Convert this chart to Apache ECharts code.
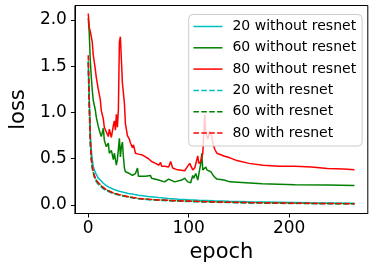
<!DOCTYPE html>
<html>
<head>
<meta charset="utf-8">
<script src="https://cdn.jsdelivr.net/npm/echarts@6/dist/echarts.min.js"></script>
<style>
html,body{margin:0;padding:0;background:#fff;}
#chart{width:376px;height:270px;}
</style>
</head>
<body>
<div id="chart"></div>
<script>
// ---- data ----
const seriesNames = ['20 without resnet','60 without resnet','80 without resnet','20 with resnet','60 with resnet','80 with resnet'];
const xTicks = [0, 100, 200];
const yTicks = [0, 0.5, 1.0, 1.5, 2.0];

const smoothEpochs = [0,1,2,3,4,5,6,8,10,12,15,18,21,25,30,35,40,45,50,60,70,80,90,100,110,125,140,160,190,220,265];
const cyan20NoRes = [1.55,1.15,0.80,0.60,0.49,0.42,0.38,0.33,0.29,0.27,0.235,0.21,0.19,0.17,0.152,0.138,0.125,0.115,0.106,0.092,0.080,0.070,0.063,0.057,0.052,0.045,0.040,0.035,0.030,0.025,0.020];
const cyan20Res   = [1.45,1.00,0.64,0.48,0.39,0.34,0.30,0.25,0.22,0.20,0.175,0.155,0.14,0.122,0.107,0.094,0.084,0.075,0.067,0.057,0.050,0.045,0.041,0.037,0.034,0.030,0.026,0.022,0.018,0.015,0.012];
const green60Res  = [1.55,1.10,0.70,0.51,0.41,0.355,0.315,0.265,0.235,0.215,0.185,0.162,0.148,0.128,0.113,0.099,0.089,0.079,0.071,0.061,0.054,0.049,0.045,0.041,0.037,0.033,0.029,0.025,0.020,0.017,0.013];
const red80Res    = [1.62,1.15,0.72,0.52,0.42,0.36,0.32,0.27,0.24,0.22,0.19,0.165,0.15,0.13,0.115,0.10,0.09,0.08,0.072,0.062,0.055,0.050,0.046,0.042,0.038,0.034,0.030,0.026,0.021,0.018,0.014];

const greenEpochs = [0,1,2,3,4,5,7,8,10,12,13,15,16,18,20,21,23,25,26,28,29,31,32,33,34,35,36,37,41,44,47,49,50,57,62,63,70,76,80,86,93,96,99,102,104,105,107,109,112,113,114,117,118,122,125,128,135,141,157,173,206,238,265];
const green60NoRes = [2.02,1.86,1.57,1.39,1.24,1.13,1.03,0.95,0.85,0.77,0.74,0.83,0.70,0.63,0.67,0.56,0.59,0.49,0.56,0.43,0.49,0.72,0.52,0.63,0.68,0.52,0.40,0.36,0.34,0.32,0.34,0.40,0.31,0.31,0.32,0.29,0.27,0.25,0.28,0.25,0.27,0.29,0.25,0.24,0.32,0.29,0.34,0.27,0.45,0.56,0.38,0.41,0.38,0.36,0.31,0.28,0.27,0.25,0.24,0.23,0.22,0.215,0.21];

const redEpochs = [0,1,2,4,5,7,8,10,12,13,15,16,18,20,21,23,25,26,27,28,29,30,31,32,33,34,35,36,37,39,41,42,44,45,47,50,54,57,60,63,67,70,72,73,76,80,82,84,89,96,99,101,104,106,109,110,112,114,116,117,119,121,123,124,126,128,135,141,148,160,174,190,206,222,238,254,265];
const red80NoRes = [2.07,1.92,1.88,1.76,1.62,1.47,1.38,1.25,1.14,1.02,0.93,0.84,0.79,0.74,0.82,0.73,0.86,0.91,0.81,0.98,0.84,1.03,1.76,1.82,1.81,1.32,1.21,1.10,0.88,0.75,0.71,0.67,0.62,0.65,0.56,0.55,0.54,0.52,0.50,0.47,0.45,0.43,0.46,0.42,0.42,0.41,0.47,0.40,0.38,0.37,0.42,0.45,0.38,0.40,0.53,0.45,0.47,0.56,0.98,0.78,0.71,0.80,0.74,0.67,0.60,0.56,0.53,0.51,0.48,0.45,0.43,0.42,0.42,0.41,0.395,0.39,0.38];

// ---- build ----
const zip = (xs, ys) => xs.map((x, i) => [x, ys[i]]);
const FONT = 'DejaVu Sans';
const colors = ['#00bfbf', '#008000', '#ff0000'];
const dash = [5.5, 2.4];

function mk(name, xs, ys, color, dashed) {
  return {
    name: name, type: 'line', data: zip(xs, ys), symbol: 'none', smooth: false,
    lineStyle: { color: color, width: 1.5, type: dashed ? dash : 'solid' },
    itemStyle: { color: color }
  };
}

const chart = echarts.init(document.getElementById('chart'), null, { renderer: 'canvas' });
chart.setOption({
  animation: false,
  backgroundColor: '#ffffff',
  grid: { left: 67.6, right: 8.2, top: 5.5, bottom: 56.5, show: true, borderColor: '#000', borderWidth: 1, containLabel: false },
  xAxis: {
    type: 'value', min: -13.25, max: 278.25,
    name: 'epoch', nameLocation: 'middle', nameGap: 29,
    nameTextStyle: { fontFamily: FONT, fontSize: 21, color: '#000' },
    axisLine: { show: true, onZero: false, lineStyle: { color: '#000', width: 1 } },
    axisTick: { show: true, length: 4, lineStyle: { color: '#000' }, customValues: xTicks },
    axisLabel: { fontFamily: FONT, fontSize: 17, color: '#000', margin: 7, customValues: xTicks },
    splitLine: { show: false }
  },
  yAxis: {
    type: 'value', min: -0.092, max: 2.157,
    name: 'loss', nameLocation: 'middle', nameGap: 38, nameRotate: 90,
    nameTextStyle: { fontFamily: FONT, fontSize: 21, color: '#000' },
    axisLine: { show: true, onZero: false, lineStyle: { color: '#000', width: 1 } },
    axisTick: { show: true, length: 4, lineStyle: { color: '#000' }, customValues: yTicks },
    axisLabel: { fontFamily: FONT, fontSize: 17, color: '#000', margin: 8, customValues: yTicks,
      formatter: v => Number(v).toFixed(1) },
    splitLine: { show: false }
  },
  legend: {
    orient: 'vertical', left: 188.7, top: 14.5,
    itemWidth: 29, itemHeight: 14, itemGap: 7.3,
    padding: [5, 6, 6, 4],
    borderColor: '#cccccc', borderWidth: 1, borderRadius: 4,
    backgroundColor: 'rgba(255,255,255,0.8)',
    itemStyle: { opacity: 0 },
    lineStyle: { width: 1.5 },
    textStyle: { fontFamily: FONT, fontSize: 14, color: '#000', padding: [0, 0, 0, 5] },
    data: seriesNames
  },
  series: [
    mk(seriesNames[0], smoothEpochs, cyan20NoRes, colors[0], false),
    mk(seriesNames[1], greenEpochs, green60NoRes, colors[1], false),
    mk(seriesNames[2], redEpochs, red80NoRes, colors[2], false),
    mk(seriesNames[3], smoothEpochs, cyan20Res, colors[0], true),
    mk(seriesNames[4], smoothEpochs, green60Res, colors[1], true),
    mk(seriesNames[5], smoothEpochs, red80Res, colors[2], true)
  ]
});
</script>
</body>
</html>
